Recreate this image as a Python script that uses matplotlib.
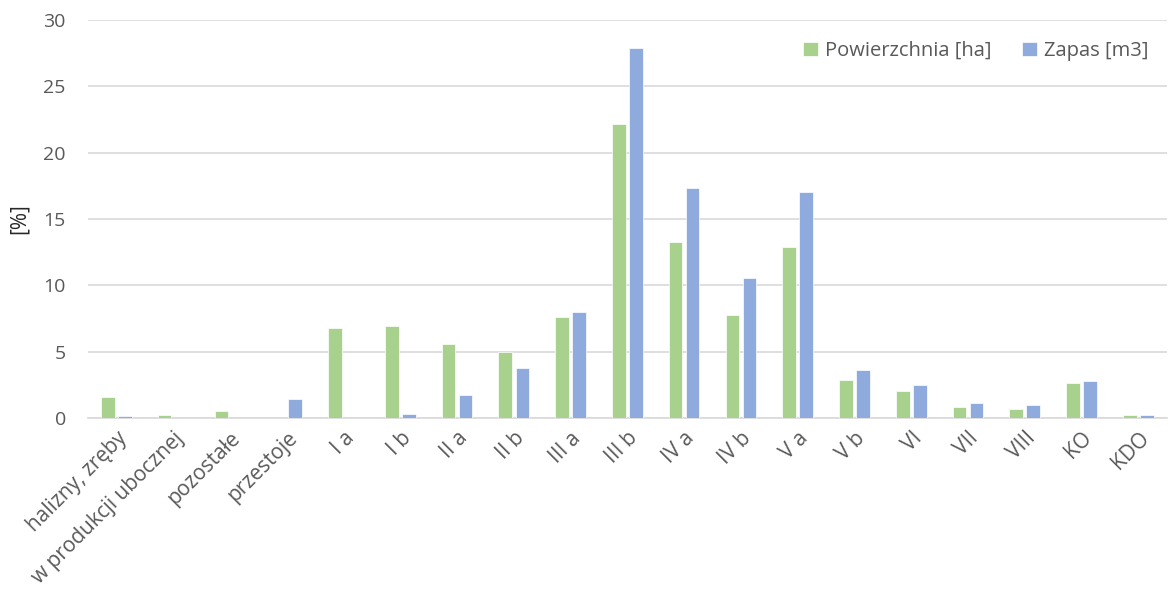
import matplotlib
matplotlib.use("Agg")
import matplotlib.pyplot as plt
import numpy as np

categories = ["halizny, zręby", "w produkcji ubocznej", "pozostałe", "przestoje",
              "I a", "I b", "II a", "II b", "III a", "III b", "IV a", "IV b",
              "V a", "V b", "VI", "VII", "VIII", "KO", "KDO"]
powierzchnia = [1.6, 0.25, 0.55, 0.0, 6.8, 6.95, 5.6, 5.0, 7.6, 22.15, 13.25, 7.75,
                12.9, 2.9, 2.05, 0.85, 0.7, 2.65, 0.2]
zapas = [0.15, 0.0, 0.0, 1.4, 0.0, 0.3, 1.7, 3.8, 8.0, 27.9, 17.35, 10.55,
         17.05, 3.6, 2.5, 1.15, 0.95, 2.8, 0.22]
yticks = [0, 5, 10, 15, 20, 25, 30]

plt.rcParams['font.family'] = ['Open Sans', 'DejaVu Sans']
text_color = "#595959"

fig = plt.figure(figsize=(11.7, 5.95), dpi=100)
ax = fig.add_axes([0.0752, 0.2975, 0.922, 0.669])

x = np.arange(len(categories))
w = 0.24
gap = 0.06
ax.bar(x - (w + gap) / 2, powierzchnia, w, color="#a9d18e", edgecolor="white",
       linewidth=0.5, label="Powierzchnia [ha]", zorder=3)
ax.bar(x + (w + gap) / 2, zapas, w, color="#8faadc", edgecolor="white",
       linewidth=0.5, label="Zapas [m3]", zorder=3)

ax.set_xlim(-0.5, len(categories) - 0.5)
ax.set_ylim(0, 30)
ax.set_yticks(yticks)
ax.yaxis.grid(True, color="#d9d9d9", linewidth=1.2, zorder=0)
ax.set_axisbelow(True)
for s in ["top", "right", "left"]:
    ax.spines[s].set_visible(False)
ax.spines["bottom"].set_color("#d9d9d9")
ax.spines["bottom"].set_linewidth(1.2)
ax.tick_params(axis="both", length=0, labelcolor=text_color)
ax.tick_params(axis="y", pad=16, labelsize=14)
ax.set_xticks(x)
ax.set_xticklabels(categories, rotation=45, ha="right", rotation_mode="anchor")
ax.tick_params(axis="x", pad=7, labelsize=15)

ax.set_ylabel("[%]", fontsize=15, color="#262626", labelpad=10)

leg = ax.legend(loc="center right", bbox_to_anchor=(0.983, 0.922), ncol=2, frameon=False,
                fontsize=14.5, handlelength=0.75, handleheight=0.75, columnspacing=1.5,
                handletextpad=0.35, borderpad=0, borderaxespad=0)
for t in leg.get_texts():
    t.set_color(text_color)

fig.savefig("out.png", dpi=100)
